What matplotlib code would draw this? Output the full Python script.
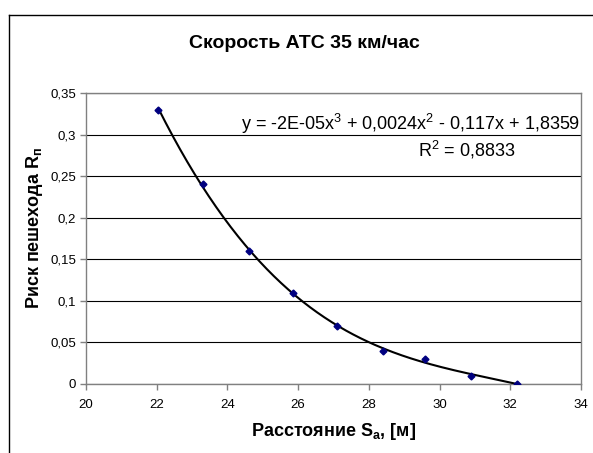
import numpy as np
import matplotlib
matplotlib.use("Agg")
import matplotlib.pyplot as plt
from matplotlib.lines import Line2D

plt.rcParams['font.family'] = ['Liberation Sans', 'DejaVu Sans']
plt.rcParams['mathtext.fontset'] = 'custom'
plt.rcParams['mathtext.rm'] = 'Liberation Sans'
plt.rcParams['mathtext.it'] = 'Liberation Sans'
plt.rcParams['mathtext.bf'] = 'Liberation Sans:bold'

# Расстояние и риск пешехода
rasstoyanie = [22.05, 23.3, 24.6, 25.85, 27.1, 28.4, 29.6, 30.9, 32.2]
risk = [0.33, 0.24, 0.16, 0.11, 0.07, 0.04, 0.03, 0.01, 0.0]

x_ticks = [20, 22, 24, 26, 28, 30, 32, 34]
y_ticks = [0, 0.05, 0.1, 0.15, 0.2, 0.25, 0.3, 0.35]
y_labels = ["0", "0,05", "0,1", "0,15", "0,2", "0,25", "0,3", "0,35"]
x_labels = [str(t) for t in x_ticks]

W, H = 593, 453
fig = plt.figure(figsize=(W / 100, H / 100), dpi=100)
fig.patch.set_facecolor("white")

# рамка диаграммы
fig.add_artist(Line2D([8.5 / W, 8.5 / W], [0, 1 - 15 / H], color="black", lw=1.0))
fig.add_artist(Line2D([8.5 / W, 1], [1 - 15 / H, 1 - 15 / H], color="black", lw=1.0))

ax = fig.add_axes([86 / W, 1 - 384 / H, (581 - 86) / W, (384 - 93) / H])

ax.set_xlim(20, 34)
ax.set_ylim(0, 0.35)
ax.set_xticks(x_ticks)
ax.set_xticklabels(x_labels)
ax.set_yticks(y_ticks)
ax.set_yticklabels(y_labels)

for s in ax.spines.values():
    s.set_color("#808080")
    s.set_linewidth(1.0)
ax.tick_params(direction="out", length=4, width=1, color="#808080",
               labelsize=9.5)
ax.tick_params(axis="x", pad=7)
ax.tick_params(axis="y", pad=3)

ax.grid(axis="y", color="black", linewidth=0.8)
ax.set_axisbelow(True)

# полиномиальная линия тренда 3-й степени
coef = np.polyfit(rasstoyanie, risk, 3)
xs = np.linspace(min(rasstoyanie), max(rasstoyanie), 200)
ax.plot(xs, np.polyval(coef, xs), color="black", lw=1.5, zorder=3)

ax.plot(rasstoyanie, risk, linestyle="none", marker="D", markersize=3.5,
        color="#000080", zorder=4)

ax.text(33.98, 0.306, "y = -2E-05x$^{3}$ + 0,0024x$^{2}$ - 0,117x + 1,8359",
        ha="right", va="baseline", fontsize=13)
ax.text(29.39, 0.274, "R$^{2}$ = 0,8833", ha="left", va="baseline", fontsize=13)

fig.text(304 / W, 1 - 44 / H, "Скорость АТС 35 км/час", ha="center", va="center",
         fontsize=14, fontweight="bold")
fig.text(334 / W, 1 - 432 / H, "Расстояние S$_{\\mathbf{a}}$, [м]", ha="center",
         va="center", fontsize=13, fontweight="bold")
fig.text(35 / W, 1 - 228 / H, "Риск пешехода R$_{\\mathbf{п}}$", ha="center",
         va="center", rotation=90, fontsize=13, fontweight="bold")

fig.savefig("out.png", dpi=100)
